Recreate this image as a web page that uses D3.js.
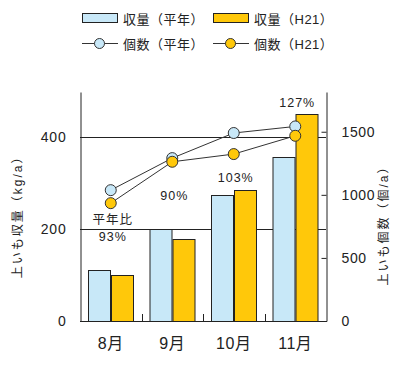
<!DOCTYPE html>
<html>
<head>
<meta charset="utf-8">
<script src="https://cdn.jsdelivr.net/npm/d3@7"></script>
<style>
  body { margin: 0; background: #fff; }
  text { font-family: "Liberation Sans", Arial, "Noto Sans CJK JP", sans-serif; fill: #222; }
</style>
</head>
<body>
<div id="chart"></div>
<script>

// Chart data
const months = ["8月", "9月", "10月", "11月"];
const yieldNormal = [110, 200, 275, 356];   // 収量(平年) kg/a
const yieldH21 = [101, 178, 285, 451];      // 収量(H21) kg/a
const countNormal = [1037, 1291, 1490, 1542]; // 個数(平年) 個/a
const countH21 = [934, 1262, 1323, 1468];     // 個数(H21) 個/a
const ratioLabels = ["93%", "90%", "103%", "127%"];
const ratioLabelAt = [183, 272, 311, 476];  // label height in kg/a units
const leftTicks = [0, 200, 400];
const rightTicks = [0, 500, 1000, 1500];

// dimensions
const width = 402;
const height = 367;
const margin = {left: 80, right: 76, top: 92, bottom: 46};

const colNormal = "#c8e8f8";
const colH21 = "#ffc80a";

const svg = d3.select("#chart")
  .append("svg")
  .attr("width", width)
  .attr("height", height);

// scales
const x0 = d3.scaleBand()
  .domain(months)
  .range([margin.left, width - margin.right]);

const pad = x0.bandwidth() * 0.135;
const x1 = d3.scaleBand()
  .domain(["normal", "h21"])
  .range([pad, x0.bandwidth() - pad]);

const yLeft = d3.scaleLinear()
  .domain([0, 498])
  .range([height - margin.bottom, margin.top]);

const yRight = d3.scaleLinear()
  .domain([0, 1815])
  .range([height - margin.bottom, margin.top]);

// gridlines at the left ticks
svg.append("g")
  .selectAll("line")
  .data(leftTicks.filter(d => d > 0))
  .join("line")
    .attr("x1", margin.left)
    .attr("x2", width - margin.right)
    .attr("y1", d => Math.round(yLeft(d)) + 0.5)
    .attr("y2", d => Math.round(yLeft(d)) + 0.5)
    .attr("stroke", "#222");

// bars
const rows = months.map((m, i) => ({month: m, vals: [
  {key: "normal", v: yieldNormal[i], c: colNormal},
  {key: "h21", v: yieldH21[i], c: colH21}
]}));

svg.append("g")
  .selectAll("g")
  .data(rows)
  .join("g")
    .attr("transform", d => `translate(${x0(d.month)},0)`)
  .selectAll("rect")
  .data(d => d.vals)
  .join("rect")
    .attr("x", d => Math.round(x1(d.key)) + 0.5)
    .attr("y", d => Math.round(yLeft(d.v)) + 0.5)
    .attr("width", Math.round(x1.bandwidth()))
    .attr("height", d => Math.round(yLeft(0)) - Math.round(yLeft(d.v)))
    .attr("fill", d => d.c)
    .attr("stroke", "#222")
    .attr("stroke-width", 1);

// left axis (labels only, no ticks)
const leftAxis = svg.append("g")
  .attr("transform", `translate(${margin.left + 0.5},0)`)
  .call(d3.axisLeft(yLeft).tickValues(leftTicks).tickSize(0).tickPadding(14));
leftAxis.select(".domain").attr("stroke", "#222");
leftAxis.selectAll("text")
  .attr("font-size", "14px")
  .attr("letter-spacing", "0.8px")
  .attr("fill", "#222");

// right axis, ticks pointing inward
const rightAxis = svg.append("g")
  .attr("transform", `translate(${width - margin.right + 0.5},0)`)
  .call(d3.axisRight(yRight).tickValues(rightTicks).tickSize(0).tickPadding(15)
          .tickFormat(d3.format("d")));
rightAxis.select(".domain").attr("stroke", "#222");
rightAxis.selectAll(".tick line")
  .attr("x1", -5).attr("x2", 0)
  .attr("stroke", "#222");
rightAxis.selectAll("text")
  .attr("font-size", "14px")
  .attr("letter-spacing", "0.6px")
  .attr("fill", "#222");

// bottom axis with small inner ticks between months
svg.append("line")
  .attr("x1", margin.left)
  .attr("x2", width - margin.right + 1)
  .attr("y1", Math.round(yLeft(0)) + 0.5)
  .attr("y2", Math.round(yLeft(0)) + 0.5)
  .attr("stroke", "#222");

svg.append("g")
  .selectAll("line")
  .data(months.slice(1))
  .join("line")
    .attr("x1", d => Math.round(x0(d)) + 0.5)
    .attr("x2", d => Math.round(x0(d)) + 0.5)
    .attr("y1", yLeft(0) - 7)
    .attr("y2", yLeft(0))
    .attr("stroke", "#222");

svg.append("g")
  .selectAll("text")
  .data(months)
  .join("text")
    .attr("x", d => x0(d) + x0.bandwidth() / 2)
    .attr("y", yLeft(0) + 28)
    .attr("text-anchor", "middle")
    .attr("font-size", "16px")
    .attr("letter-spacing", "0.5px")
    .text(d => d);

// count lines + circles
const cx = d => x0(d) + x0.bandwidth() / 2;
const series = [
  {vals: countNormal, c: colNormal},
  {vals: countH21, c: colH21}
];

series.forEach(s => {
  const pts = months.map((m, i) => [cx(m), yRight(s.vals[i])]);
  svg.append("path")
    .attr("d", d3.line()(pts))
    .attr("fill", "none")
    .attr("stroke", "#333")
    .attr("stroke-width", 1);
});

series.forEach(s => {
  svg.append("g")
    .selectAll("circle")
    .data(months)
    .join("circle")
      .attr("cx", d => cx(d))
      .attr("cy", (d, i) => yRight(s.vals[i]))
      .attr("r", 5.5)
      .attr("fill", s.c)
      .attr("stroke", "#333")
      .attr("stroke-width", 1);
});

// ratio labels
svg.append("g")
  .selectAll("text")
  .data(months)
  .join("text")
    .attr("x", d => cx(d) + 2)
    .attr("y", (d, i) => yLeft(ratioLabelAt[i]) + 4.5)
    .attr("text-anchor", "middle")
    .attr("font-size", "12.5px")
    .attr("letter-spacing", "1px")
    .text((d, i) => ratioLabels[i]);

svg.append("text")
  .attr("x", cx(months[0]) + 2)
  .attr("y", yLeft(222) + 5)
  .attr("text-anchor", "middle")
  .attr("font-size", "12.5px")
  .attr("letter-spacing", "1px")
  .text("平年比");

// axis titles
svg.append("text")
  .attr("transform", `translate(22,${yLeft(233)}) rotate(-90)`)
  .attr("text-anchor", "middle")
  .attr("font-size", "12px")
  .attr("letter-spacing", "2px")
  .text("上いも収量（kg/a）");

svg.append("text")
  .attr("transform", `translate(388,${yRight(780)}) rotate(-90)`)
  .attr("text-anchor", "middle")
  .attr("font-size", "12px")
  .attr("letter-spacing", "2px")
  .text("上いも個数（個/a）");

// legend
const legend = svg.append("g").attr("transform", "translate(82,0)");
const legendItems = [
  {label: "収量（平年）", c: colNormal, type: "bar", col: 0, row: 0},
  {label: "収量（H21）", c: colH21, type: "bar", col: 1, row: 0},
  {label: "個数（平年）", c: colNormal, type: "dot", col: 0, row: 1},
  {label: "個数（H21）", c: colH21, type: "dot", col: 1, row: 1}
];

const li = legend.selectAll("g")
  .data(legendItems)
  .join("g")
    .attr("transform", d => `translate(${d.col * 131},${18 + d.row * 25})`);

li.filter(d => d.type === "bar").append("rect")
  .attr("x", 0.5).attr("y", -4.5)
  .attr("width", 35).attr("height", 9)
  .attr("fill", d => d.c)
  .attr("stroke", "#222");

li.filter(d => d.type === "dot").append("line")
  .attr("x1", 0).attr("x2", 36)
  .attr("y1", 0.5).attr("y2", 0.5)
  .attr("stroke", "#333");

li.filter(d => d.type === "dot").append("circle")
  .attr("cx", 17.5).attr("cy", 0.5).attr("r", 5)
  .attr("fill", d => d.c)
  .attr("stroke", "#333");

li.append("text")
  .attr("x", 41)
  .attr("y", 5.5)
  .attr("font-size", "13px")
  .attr("letter-spacing", "0.5px")
  .text(d => d.label);

</script>
</body>
</html>
